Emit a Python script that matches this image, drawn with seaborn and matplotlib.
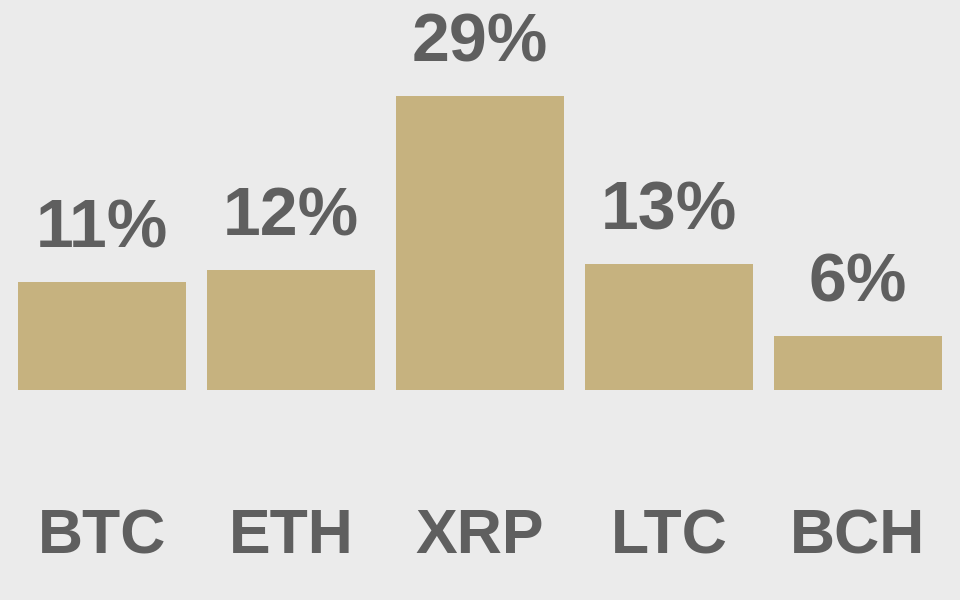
import matplotlib
matplotlib.use("Agg")
import matplotlib.pyplot as plt
import seaborn as sns
import pandas as pd

coins = ["BTC", "ETH", "XRP", "LTC", "BCH"]
shares = [10.8, 12.0, 29.4, 12.6, 5.4]
share_labels = ["11%", "12%", "29%", "13%", "6%"]

bg = "#ebebeb"
bar_color = "#c6b27f"
text_color = "#5f5f5f"

sns.set_theme(style="white")
plt.rcParams["font.family"] = ["Liberation Sans", "DejaVu Sans"]

df = pd.DataFrame({"coin": coins, "share": shares})

fig = plt.figure(figsize=(9.6, 6), dpi=100, facecolor=bg)
ax = fig.add_axes([0, 0, 1, 1])
ax.set_facecolor(bg)

sns.barplot(data=df, x="coin", y="share", color=bar_color, saturation=1,
            width=0.89, linewidth=0, ax=ax)

ax.set_xlim(-0.54, 4.54)
ax.set_ylim(-21, 39)

# value labels above bars, coin names below
for i, (h, lab) in enumerate(zip(shares, share_labels)):
    ax.text(i, h + 3.5, lab, ha="center", va="baseline", fontsize=49,
            fontweight="bold", color=text_color)
    ax.text(i, -16.3, coins[i], ha="center", va="baseline", fontsize=45,
            fontweight="bold", color=text_color)

ax.set_xticks([])
ax.set_yticks([])
ax.set_xlabel("")
ax.set_ylabel("")
sns.despine(ax=ax, left=True, bottom=True)

fig.savefig("out.png", dpi=100, facecolor=bg)
